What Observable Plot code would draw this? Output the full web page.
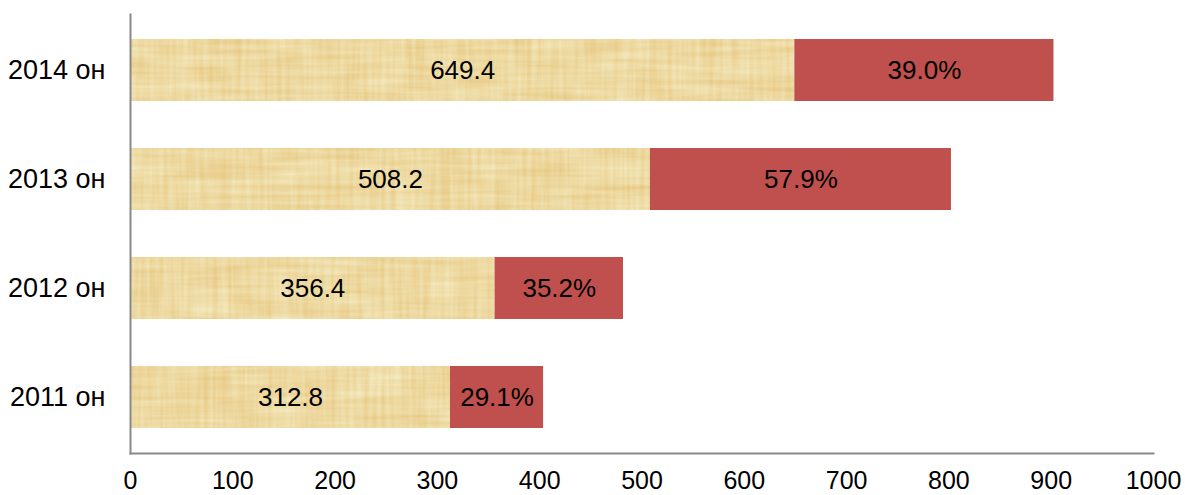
<!DOCTYPE html>
<html>
<head>
<meta charset="utf-8">
<script src="https://cdn.jsdelivr.net/npm/d3@7"></script>
<script src="https://cdn.jsdelivr.net/npm/@observablehq/plot@0.6"></script>
<style>
  html, body { margin: 0; padding: 0; background: #fff; }
  #chart { width: 1185px; height: 495px; }
</style>
</head>
<body>
<div id="chart"></div>
<script>
// ---- data ----
const years = ["2014 он", "2013 он", "2012 он", "2011 он"];
const baseValues = [649.4, 508.2, 356.4, 312.8];
const baseLabels = ["649.4", "508.2", "356.4", "312.8"];
const growthValues = [253.3, 294.3, 125.5, 91.0];
const growthLabels = ["39.0%", "57.9%", "35.2%", "29.1%"];
const xTicks = [0, 100, 200, 300, 400, 500, 600, 700, 800, 900, 1000];

// ---- tables built from the arrays ----
const baseRows = years.map((y, i) => ({year: y, value: baseValues[i], label: baseLabels[i]}));
const growthRows = years.map((y, i) => ({year: y, start: baseValues[i], end: baseValues[i] + growthValues[i], label: growthLabels[i]}));

const font = "Arial, 'Liberation Sans', sans-serif";

const svg = Plot.plot({
  width: 1185,
  height: 495,
  marginLeft: 130,
  marginRight: 32,
  marginTop: 14,
  marginBottom: 42,
  style: {fontFamily: font, fontSize: "25px", color: "#000", background: "#fff"},
  x: {domain: [0, 1000], ticks: xTicks, tickSize: 0, tickPadding: 18, label: null, tickFormat: d => String(d)},
  y: {domain: years, paddingInner: 0.427, paddingOuter: 0.21, tickSize: 0, tickPadding: 25, label: null},
  marks: [
    Plot.barX(baseRows, {x1: 0, x2: "value", y: "year", fill: "#EED8A0"}),
    Plot.barX(growthRows, {x1: "start", x2: "end", y: "year", fill: "#C0504D"}),
    Plot.text(baseRows, {x: d => d.value / 2, y: "year", text: "label", fontSize: 26, fill: "#000", fontFamily: font}),
    Plot.text(growthRows, {x: d => (d.start + d.end) / 2, y: "year", text: "label", fontSize: 26, fill: "#000", fontFamily: font}),
    Plot.frame({anchor: "left", stroke: "#898989", strokeWidth: 2, strokeOpacity: 1}),
    Plot.frame({anchor: "bottom", stroke: "#898989", strokeWidth: 2, strokeOpacity: 1})
  ]
});

// y axis labels slightly larger
svg.querySelectorAll('g[aria-label="y-axis tick label"] text, g[aria-label="y-axis tick label"]').forEach(el => el.setAttribute("font-size", "27"));

// papyrus-like texture for the base segments
const ns = "http://www.w3.org/2000/svg";
const defs = document.createElementNS(ns, "defs");
defs.innerHTML = `
<filter id="papyrus" x="0" y="0" width="100%" height="100%" color-interpolation-filters="sRGB">
  <feTurbulence type="fractalNoise" baseFrequency="0.22 0.012" numOctaves="2" seed="3" result="n1"/>
  <feColorMatrix in="n1" type="matrix" result="v" values="1 0 0 0 0  0 1 0 0 0  0 0 1 0 0  0 0 0 0 1"/>
  <feTurbulence type="fractalNoise" baseFrequency="0.012 0.2" numOctaves="2" seed="11" result="n2"/>
  <feColorMatrix in="n2" type="matrix" result="h" values="1 0 0 0 0  0 1 0 0 0  0 0 1 0 0  0 0 0 0 1"/>
  <feTurbulence type="fractalNoise" baseFrequency="0.03 0.05" numOctaves="1" seed="5" result="n3"/>
  <feColorMatrix in="n3" type="matrix" result="p" values="1 0 0 0 0  0 1 0 0 0  0 0 1 0 0  0 0 0 0 1"/>
  <feComposite in="v" in2="h" operator="arithmetic" k1="0" k2="0.5" k3="0.5" k4="0" result="vh"/>
  <feComposite in="vh" in2="p" operator="arithmetic" k1="0" k2="0.7" k3="0.3" k4="0" result="mix"/>
  <feColorMatrix in="mix" type="matrix" result="tint"
    values="0.10 0 0 0 0.88
            0.28 0 0 0 0.71
            0.50 0 0 0 0.38
            0 0 0 0 1"/>
  <feComposite in="tint" in2="SourceGraphic" operator="in"/>
</filter>`;
svg.insertBefore(defs, svg.firstChild);
const bars = svg.querySelectorAll('g[aria-label="bar"]');
if (bars.length) bars[0].setAttribute("filter", "url(#papyrus)");

document.getElementById("chart").appendChild(svg);
</script>
</body>
</html>
